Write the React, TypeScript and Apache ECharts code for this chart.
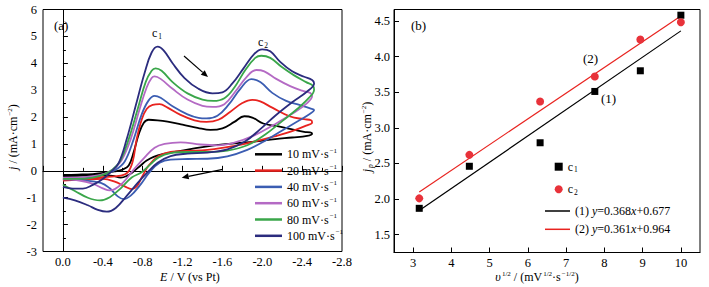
import React, { useEffect, useRef } from 'react';
import * as echarts from 'echarts';

// ---------- Panel (a): cyclic voltammograms (E / V, j / mA cm-2) ----------
const scanRates = ['10', '20', '40', '60', '80', '100'];
const cvColors = ['#000000', '#e8231f', '#3b5db2', '#b46ac4', '#3aa64a', '#2b2c7e'];

const cv10: number[][] = [
  [0, -0.15], [-0.15, -0.14], [-0.3, -0.12], [-0.42, -0.07], [-0.52, -0.02], [-0.6, 0.05], [-0.66, 0.2],
  [-0.71, 0.7], [-0.76, 1.35], [-0.81, 1.78], [-0.86, 1.9], [-0.95, 1.88], [-1.05, 1.83], [-1.2, 1.72],
  [-1.35, 1.6], [-1.48, 1.52], [-1.6, 1.58], [-1.72, 1.82], [-1.82, 2.03], [-1.9, 1.98], [-2.01, 1.76],
  [-2.15, 1.66], [-2.29, 1.55], [-2.42, 1.45], [-2.48, 1.43], [-2.5, 1.38],
  [-2.45, 1.3], [-2.3, 1.24], [-2.13, 1.18], [-1.9, 1.08], [-1.63, 0.99], [-1.4, 0.88], [-1.18, 0.74],
  [-1.0, 0.62], [-0.91, 0.52], [-0.84, 0.38], [-0.78, 0.2], [-0.7, -0.05], [-0.64, -0.19], [-0.58, -0.25],
  [-0.5, -0.19], [-0.4, -0.16], [-0.2, -0.18], [0, -0.2],
];
const cv20: number[][] = [
  [0, -0.32], [-0.15, -0.3], [-0.3, -0.25], [-0.45, -0.22], [-0.58, -0.18], [-0.65, -0.06], [-0.7, 0.35],
  [-0.74, 1.18], [-0.79, 1.9], [-0.84, 2.3], [-0.9, 2.45], [-0.97, 2.48], [-1.05, 2.35], [-1.18, 2.08],
  [-1.32, 1.88], [-1.44, 1.82], [-1.56, 1.9], [-1.68, 2.2], [-1.8, 2.52], [-1.9, 2.64], [-1.98, 2.58],
  [-2.1, 2.35], [-2.28, 2.02], [-2.42, 1.92], [-2.49, 1.88], [-2.5, 1.8],
  [-2.44, 1.68], [-2.3, 1.48], [-2.12, 1.28], [-1.96, 1.12], [-1.8, 0.98], [-1.63, 0.87], [-1.45, 0.78],
  [-1.25, 0.74], [-1.08, 0.7], [-0.96, 0.55], [-0.86, 0.2], [-0.79, -0.25], [-0.74, -0.58], [-0.69, -0.68],
  [-0.62, -0.58], [-0.52, -0.4], [-0.4, -0.3], [-0.2, -0.33], [0, -0.36],
];
const cv40: number[][] = [
  [0, -0.28], [-0.15, -0.28], [-0.3, -0.22], [-0.42, -0.12], [-0.52, 0.02], [-0.62, 0.35], [-0.71, 1.18],
  [-0.79, 2.1], [-0.86, 2.62], [-0.92, 2.79], [-0.98, 2.72], [-1.1, 2.4], [-1.25, 2.1], [-1.36, 1.97],
  [-1.44, 1.95], [-1.55, 2.05], [-1.66, 2.45], [-1.78, 3.05], [-1.89, 3.41], [-1.98, 3.3], [-2.1, 2.9],
  [-2.24, 2.6], [-2.38, 2.44], [-2.48, 2.32], [-2.52, 2.26],
  [-2.48, 2.12], [-2.36, 1.85], [-2.2, 1.5], [-2.03, 1.12], [-1.85, 0.78], [-1.65, 0.54], [-1.45, 0.45],
  [-1.25, 0.44], [-1.08, 0.42], [-0.97, 0.3], [-0.87, -0.05], [-0.77, -0.55], [-0.68, -0.92], [-0.61, -1.05],
  [-0.55, -0.95], [-0.47, -0.65], [-0.38, -0.45], [-0.2, -0.35], [0, -0.32],
];
const cv60: number[][] = [
  [0, -0.25], [-0.15, -0.25], [-0.3, -0.2], [-0.42, -0.1], [-0.5, 0.05], [-0.59, 0.4], [-0.68, 1.18],
  [-0.77, 2.3], [-0.84, 3.1], [-0.89, 3.45], [-0.92, 3.51], [-0.98, 3.42], [-1.1, 3.05], [-1.25, 2.65],
  [-1.4, 2.42], [-1.5, 2.38], [-1.62, 2.48], [-1.73, 2.95], [-1.84, 3.48], [-1.94, 3.75], [-2.02, 3.7],
  [-2.14, 3.42], [-2.28, 3.15], [-2.4, 2.98], [-2.48, 2.9], [-2.5, 2.78],
  [-2.45, 2.52], [-2.3, 2.12], [-2.12, 1.72], [-1.92, 1.32], [-1.72, 1.05], [-1.55, 0.95], [-1.38, 0.98],
  [-1.18, 1.06], [-1.02, 1.0], [-0.92, 0.86], [-0.82, 0.5], [-0.7, 0.0], [-0.6, -0.45], [-0.52, -0.68],
  [-0.47, -0.73], [-0.4, -0.65], [-0.3, -0.48], [-0.15, -0.35], [0, -0.3],
];
const cv80: number[][] = [
  [0, -0.3], [-0.15, -0.3], [-0.3, -0.25], [-0.42, -0.12], [-0.5, 0.05], [-0.58, 0.4], [-0.66, 1.18],
  [-0.75, 2.3], [-0.83, 3.3], [-0.89, 3.72], [-0.93, 3.81], [-0.99, 3.72], [-1.1, 3.3], [-1.25, 2.88],
  [-1.4, 2.65], [-1.51, 2.6], [-1.62, 2.7], [-1.72, 3.1], [-1.83, 3.75], [-1.93, 4.2], [-1.99, 4.28],
  [-2.08, 4.2], [-2.2, 3.85], [-2.32, 3.55], [-2.44, 3.3], [-2.51, 3.16], [-2.52, 3.02],
  [-2.47, 2.72], [-2.35, 2.3], [-2.2, 1.85], [-2.03, 1.35], [-1.85, 0.95], [-1.65, 0.75], [-1.45, 0.7],
  [-1.25, 0.7], [-1.08, 0.66], [-0.96, 0.5], [-0.88, 0.25], [-0.79, -0.05], [-0.69, -0.25], [-0.58, -0.65],
  [-0.47, -0.98], [-0.37, -1.1], [-0.25, -1.0], [-0.12, -0.75], [0, -0.52],
];
const cv100: number[][] = [
  [0, -0.6], [-0.1, -0.66], [-0.2, -0.66], [-0.3, -0.52], [-0.4, -0.3], [-0.48, -0.05], [-0.56, 0.3],
  [-0.64, 1.18], [-0.73, 2.42], [-0.82, 3.65], [-0.89, 4.4], [-0.95, 4.62], [-1.01, 4.48], [-1.1, 4.0],
  [-1.22, 3.45], [-1.36, 3.05], [-1.5, 2.88], [-1.6, 2.92], [-1.7, 3.25], [-1.81, 3.8], [-1.92, 4.35],
  [-2.0, 4.52], [-2.08, 4.45], [-2.18, 4.05], [-2.3, 3.7], [-2.42, 3.5], [-2.5, 3.38], [-2.52, 3.25],
  [-2.45, 2.95], [-2.3, 2.55], [-2.13, 2.05], [-1.98, 1.55], [-1.83, 1.1], [-1.65, 0.8], [-1.45, 0.68],
  [-1.25, 0.64], [-1.08, 0.55], [-0.95, 0.3], [-0.85, -0.05], [-0.75, -0.45], [-0.64, -0.93],
  [-0.53, -1.38], [-0.44, -1.52], [-0.35, -1.45], [-0.25, -1.28], [-0.12, -1.1], [0, -1.0],
];
const cvCurves = [cv10, cv20, cv40, cv60, cv80, cv100];

// ---------- Panel (b): peak current vs sqrt(scan rate) ----------
const sqrtRates = [3.16, 4.47, 6.32, 7.75, 8.94, 10.0];
const peakC1 = [1.87, 2.46, 2.79, 3.51, 3.8, 4.58];
const peakC2 = [2.01, 2.62, 3.37, 3.72, 4.24, 4.48];
const fitX = [3.16, 10.0];
const fit1Y = [1.84, 4.36];
const fit2Y = [2.1, 4.57];
const bXTicks = [3, 4, 5, 6, 7, 8, 9, 10];
const bYTicks = [1.5, 2.0, 2.5, 3.0, 3.5, 4.0, 4.5];

const SERIF = 'Liberation Serif';
const TICK_FS = 12.5;
const TEXT_FS = 12;

const rich = {
  i: { fontStyle: 'italic', fontFamily: SERIF, fontSize: TEXT_FS, color: '#000' },
  s: { fontSize: 7, verticalAlign: 'top', fontFamily: SERIF, color: '#000', padding: [0, 0, 0, 1] },
  b: { fontSize: 7.5, verticalAlign: 'bottom', fontFamily: SERIF, color: '#000', padding: [0, 0, 0, 1] },
  bi: { fontSize: 7.5, verticalAlign: 'bottom', fontStyle: 'italic', fontFamily: SERIF, color: '#000', padding: [0, 0, 0, 1] },
};

function txt(x: number, y: number, text: string, extra: any = {}) {
  return {
    type: 'text',
    x,
    y,
    ...extra,
    style: {
      text,
      fontFamily: SERIF,
      fontSize: TEXT_FS,
      fill: '#000',
      lineHeight: 14,
      rich,
      align: 'center',
      verticalAlign: 'middle',
      ...(extra.style || {}),
    },
  };
}

function arrow(x1: number, y1: number, x2: number, y2: number) {
  const a = Math.atan2(y2 - y1, x2 - x1);
  const L = 7;
  const W = 3;
  const bx = x2 - L * Math.cos(a);
  const by = y2 - L * Math.sin(a);
  const px = -Math.sin(a) * W;
  const py = Math.cos(a) * W;
  return {
    type: 'group',
    children: [
      { type: 'line', shape: { x1, y1, x2: bx, y2: by }, style: { stroke: '#000', lineWidth: 1.2 } },
      {
        type: 'polygon',
        shape: { points: [[x2, y2], [bx + px, by + py], [bx - px, by - py]] },
        style: { fill: '#000' },
      },
    ],
  };
}

const axisCommon = {
  axisLine: { show: true, lineStyle: { color: '#000', width: 1 } },
  axisTick: { show: true, inside: true, length: 5, lineStyle: { color: '#000', width: 1 } },
  splitLine: { show: false },
};

const legendText = { color: '#000', fontFamily: SERIF, fontSize: TEXT_FS, lineHeight: 14, rich };

export default function App() {
  const ref = useRef<HTMLDivElement>(null);
  useEffect(() => {
    if (!ref.current) return;
    const chart = echarts.init(ref.current, undefined, { renderer: 'svg' });

    const cvSeries = cvCurves.map((d, k) => ({
      name: scanRates[k],
      type: 'line',
      xAxisIndex: 0,
      yAxisIndex: 0,
      data: d,
      smooth: 0.4,
      symbol: 'none',
      lineStyle: { color: cvColors[k], width: 1.8 },
      itemStyle: { color: cvColors[k] },
      z: 2 + k,
    }));

    const bNames: Record<string, string> = {
      c1: 'c{b|1}',
      c2: 'c{b|2}',
      fit1: '(1) {i|y}=0.368{i|x}+0.677',
      fit2: '(2) {i|y}=0.361{i|x}+0.964',
    };

    const option: any = {
      animation: false,
      textStyle: { fontFamily: SERIF },
      grid: [
        { left: 43, top: 9.5, width: 299, height: 242, show: true, borderColor: '#000', borderWidth: 1, containLabel: false, outerBoundsMode: 'none' },
        { left: 394, top: 9.5, width: 306, height: 243, show: true, borderColor: '#000', borderWidth: 1, containLabel: false, outerBoundsMode: 'none' },
      ],
      xAxis: [
        {
          gridIndex: 0,
          type: 'value',
          min: -2.8,
          max: 0.2,
          interval: 0.4,
          inverse: true,
          ...axisCommon,
          minorTick: { show: true, splitNumber: 2, length: 3, lineStyle: { color: '#000' } },
          axisLabel: {
            color: '#000',
            fontFamily: SERIF,
            fontSize: TICK_FS,
            margin: 4,
            showMaxLabel: false,
            formatter: (v: number) => (v > 0.1 ? '' : Math.abs(v) < 1e-6 ? '0.0' : v.toFixed(1)),
          },
        },
        {
          gridIndex: 1,
          type: 'value',
          min: 2.5,
          max: 10.5,
          ...axisCommon,
          axisTick: { ...axisCommon.axisTick, customValues: bXTicks },
          axisLabel: { color: '#000', fontFamily: SERIF, fontSize: TICK_FS, margin: 4, customValues: bXTicks },
        },
      ],
      yAxis: [
        {
          gridIndex: 0,
          type: 'value',
          min: -3,
          max: 6,
          interval: 1,
          ...axisCommon,
          minorTick: { show: true, splitNumber: 2, length: 3, lineStyle: { color: '#000' } },
          axisLabel: { color: '#000', fontFamily: SERIF, fontSize: TICK_FS, margin: 6 },
        },
        {
          gridIndex: 1,
          type: 'value',
          min: 1.25,
          max: 4.66,
          ...axisCommon,
          axisTick: { ...axisCommon.axisTick, customValues: bYTicks },
          axisLabel: {
            color: '#000',
            fontFamily: SERIF,
            fontSize: TICK_FS,
            margin: 4,
            customValues: bYTicks,
            formatter: (v: number) => v.toFixed(1),
          },
        },
      ],
      legend: [
        {
          data: scanRates.map((n) => ({ name: n, icon: 'rect' })),
          orient: 'vertical',
          left: 255,
          top: 147.3,
          padding: 0,
          itemWidth: 27,
          itemHeight: 2.5,
          itemGap: 2.3,
          selectedMode: false,
          formatter: (n: string) => `${n} mV·s{s|−1}`,
          textStyle: legendText,
        },
        {
          data: ['c1', 'c2'],
          orient: 'vertical',
          left: 554.7,
          top: 159.7,
          padding: 0,
          itemWidth: 8,
          itemHeight: 8,
          itemGap: 8.6,
          selectedMode: false,
          formatter: (n: string) => bNames[n],
          textStyle: legendText,
        },
        {
          data: [
            { name: 'fit1', icon: 'rect' },
            { name: 'fit2', icon: 'rect' },
          ],
          orient: 'vertical',
          left: 545,
          top: 204,
          padding: 0,
          itemWidth: 25,
          itemHeight: 1.5,
          itemGap: 4.3,
          selectedMode: false,
          formatter: (n: string) => bNames[n],
          textStyle: legendText,
        },
      ],
      series: [
        ...cvSeries,
        {
          name: 'fit1',
          type: 'line',
          xAxisIndex: 1,
          yAxisIndex: 1,
          data: fitX.map((x, i) => [x, fit1Y[i]]),
          symbol: 'none',
          lineStyle: { color: '#000', width: 1.2 },
          itemStyle: { color: '#000' },
        },
        {
          name: 'fit2',
          type: 'line',
          xAxisIndex: 1,
          yAxisIndex: 1,
          data: fitX.map((x, i) => [x, fit2Y[i]]),
          symbol: 'none',
          lineStyle: { color: '#e8231f', width: 1.2 },
          itemStyle: { color: '#e8231f' },
        },
        {
          name: 'c1',
          type: 'scatter',
          xAxisIndex: 1,
          yAxisIndex: 1,
          data: sqrtRates.map((x, i) => [x, peakC1[i]]),
          symbol: 'rect',
          symbolSize: 7,
          itemStyle: { color: '#000', opacity: 1 },
          z: 5,
        },
        {
          name: 'c2',
          type: 'scatter',
          xAxisIndex: 1,
          yAxisIndex: 1,
          data: sqrtRates.map((x, i) => [x, peakC2[i]]),
          symbol: 'circle',
          symbolSize: 8,
          itemStyle: { color: '#e8323a', opacity: 1 },
          z: 5,
        },
      ],
      graphic: [
        txt(54, 25, '(a)', { style: { align: 'left', fontSize: 13 } }),
        txt(157, 33, 'c{b|1}'),
        txt(263, 42, 'c{b|2}'),
        arrow(184, 56, 208, 77),
        arrow(222.7, 169.3, 181.7, 177.7),
        txt(13, 137, '{i|j} / (mA·cm{s|−2})', { rotation: Math.PI / 2 }),
        txt(190, 277, '{i|E} / V (vs Pt)'),
        txt(411, 25, '(b)', { style: { align: 'left', fontSize: 13 } }),
        txt(583, 58, '(2)', { style: { align: 'left', fontSize: 13 } }),
        txt(601, 98, '(1)', { style: { align: 'left', fontSize: 13 } }),
        txt(367, 137, '{i|j}{bi|p} / (mA·cm{s|−2})', { rotation: Math.PI / 2 }),
        txt(537, 277, '{i|υ}{s|1/2} / (mV{s|1/2}·s{s|−1/2})'),
      ],
    };

    chart.setOption(option);
    return () => chart.dispose();
  }, []);

  return (
    <div
      ref={ref}
      style={{ position: 'absolute', left: 0, top: 0, width: 709, height: 287, background: '#fff' }}
    />
  );
}
